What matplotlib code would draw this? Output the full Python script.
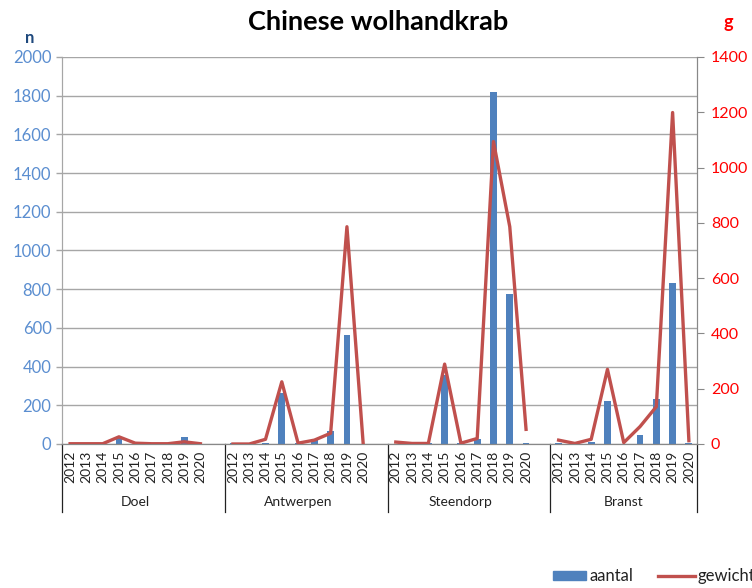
import numpy as np
import matplotlib.pyplot as plt
import matplotlib.transforms as mtransforms
from matplotlib.lines import Line2D

plt.rcParams['font.family'] = ['Lato', 'DejaVu Sans']

##### Data ####
jaren = ['2012', '2013', '2014', '2015', '2016', '2017', '2018', '2019', '2020']
locaties = ['Doel', 'Antwerpen', 'Steendorp', 'Branst']

aantal_doel = [0, 0, 0, 33, 0, 0, 0, 36, 0]
aantal_antwerpen = [5, 0, 5, 265, 3, 25, 67, 565, 0]
aantal_steendorp = [0, 0, 3, 355, 3, 24, 1821, 774, 3]
aantal_branst = [3, 0, 12, 224, 0, 48, 233, 834, 3]

gewicht_doel = [1, 1, 1, 26, 3, 1, 1, 8, 1]
gewicht_antwerpen = [0, 0, 17, 225, 3, 14, 39, 786, 0]
gewicht_steendorp = [7, 2, 2, 289, 3, 20, 1094, 786, 53]
gewicht_branst = [14, 2, 17, 270, 5, 63, 135, 1199, 12]

aantal = [aantal_doel, aantal_antwerpen, aantal_steendorp, aantal_branst]
gewicht = [gewicht_doel, gewicht_antwerpen, gewicht_steendorp, gewicht_branst]

# categories: 9 years per site, one empty slot between sites
x_a, y_a, y_g, labels = [], [], [], []
pos = 0
grens = [-0.5]
for k in range(len(locaties)):
    for j in range(len(jaren)):
        x_a.append(pos)
        y_a.append(aantal[k][j])
        y_g.append(gewicht[k][j])
        labels.append(jaren[j])
        pos += 1
    if k < len(locaties) - 1:
        x_a.append(pos)
        y_a.append(np.nan)
        y_g.append(np.nan)
        labels.append('')
        pos += 1
        grens.append(pos - 0.5)
grens.append(pos - 0.5)

blauw = '#4F81BD'
rood = '#C0504D'

fig = plt.figure(figsize=(7.52, 5.88), dpi=100)
ax = fig.add_axes([0.0824, 0.2449, 0.8445, 0.6582])
ax2 = ax.twinx()

ax.bar(x_a, y_a, width=0.42, color=blauw, zorder=2)
ax2.plot(x_a, y_g, color=rood, lw=2.4, zorder=3)

ax.set_xlim(-0.5, pos - 0.5)
ax.set_ylim(0, 2000)
ax2.set_ylim(0, 1400)
ax.set_yticks(range(0, 2001, 200))
ax2.set_yticks(range(0, 1401, 200))
ax.yaxis.grid(True, color='#A6A6A6', lw=1)
ax.set_axisbelow(True)

ax.set_xticks(x_a)
ax.set_xticklabels(labels, rotation=90, fontsize=10, color='#222222')
ax.tick_params(axis='x', length=0, pad=5)
ax.tick_params(axis='y', colors='#5B8ED0', labelsize=12, length=4, width=1, direction='out')
ax.tick_params(axis='y', which='both', color='#A6A6A6')
ax2.tick_params(axis='y', labelcolor='#FF0000', labelsize=11.5, length=5, color='#888888', pad=5)

for a in (ax, ax2):
    a.spines['top'].set_visible(False)
    a.spines['left'].set_color('#A6A6A6')
    a.spines['right'].set_color('#888888')
    a.spines['bottom'].set_color('#888888')

trans = mtransforms.blended_transform_factory(ax.transData, ax.transAxes)
for g in grens:
    ax.add_line(Line2D([g, g], [0, -0.176], transform=trans, color='#222222', lw=0.9, clip_on=False))

for k, naam in enumerate(locaties):
    midden = (grens[k] + grens[k + 1]) / 2
    if k < len(locaties) - 1:
        midden -= 0.5
    ax.text(midden, -0.15, naam, transform=trans, ha='center', va='center', fontsize=10, color='#222222')

fig.text(0.503, 0.962, 'Chinese wolhandkrab', ha='center', va='center', fontsize=19.5, fontweight='bold')
fig.text(0.040, 0.935, 'n', ha='center', va='center', fontsize=12, fontweight='bold', color='#1F497D')
fig.text(0.969, 0.962, 'g', ha='center', va='center', fontsize=13, fontweight='bold', color='#FF0000')

# legend
fig.patches.append(plt.Rectangle((553 / 752, 1 - 580 / 588), 33 / 752, 9 / 588, transform=fig.transFigure, color=blauw))
fig.text(590 / 752, 1 - 576 / 588, 'aantal', va='center', fontsize=12, color='#222222')
fig.lines.append(Line2D([658 / 752, 695 / 752], [1 - 576 / 588, 1 - 576 / 588], transform=fig.transFigure, color=rood, lw=2.4))
fig.text(698 / 752, 1 - 576 / 588, 'gewicht', va='center', fontsize=12, color='#222222')

plt.savefig('out.png', dpi=100)
